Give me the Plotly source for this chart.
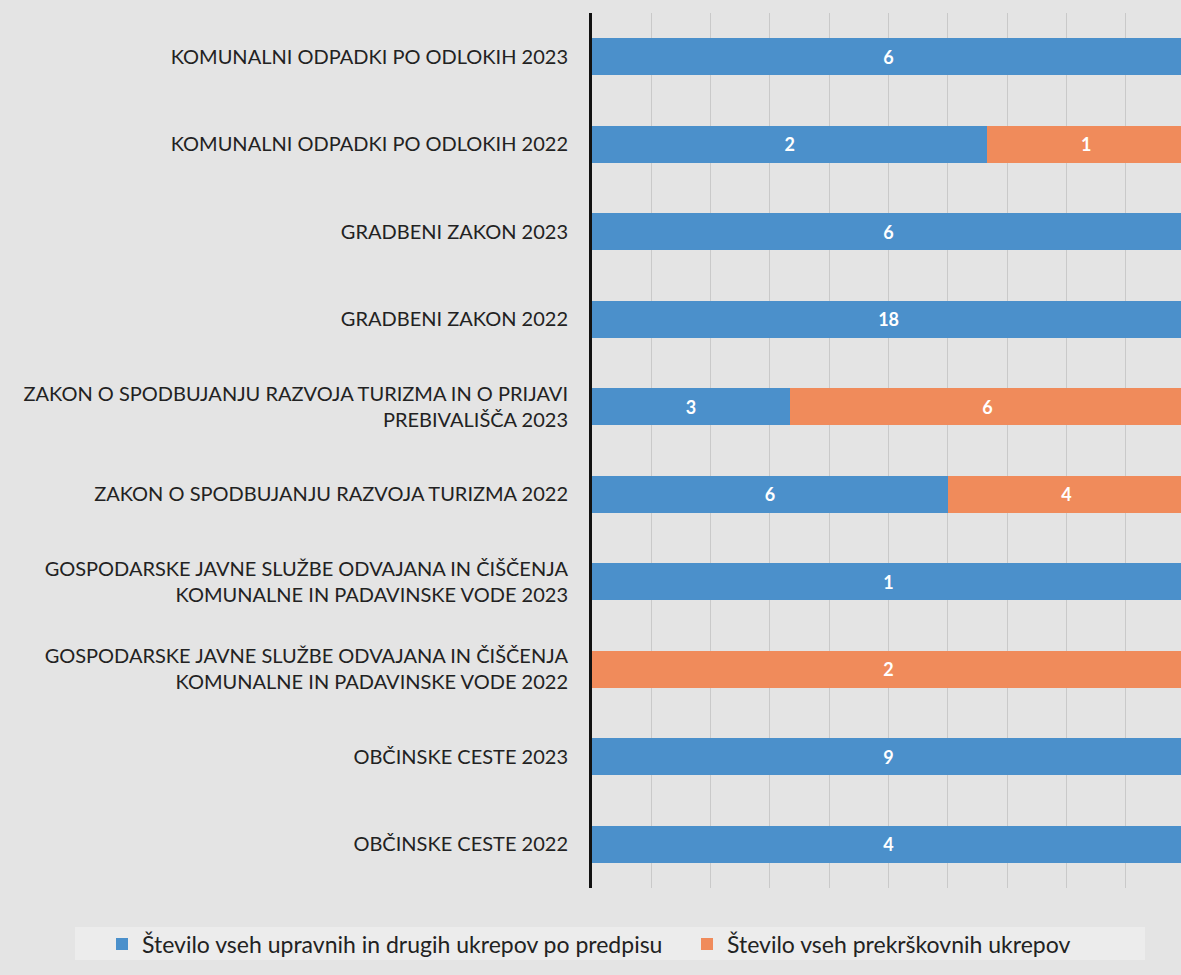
import plotly.graph_objects as go

# categories listed bottom-to-top (plotly draws the first category at the bottom)
categories = [
    "OBČINSKE CESTE 2022",
    "OBČINSKE CESTE 2023",
    "GOSPODARSKE JAVNE SLUŽBE ODVAJANA IN ČIŠČENJA<br>KOMUNALNE IN PADAVINSKE VODE 2022",
    "GOSPODARSKE JAVNE SLUŽBE ODVAJANA IN ČIŠČENJA<br>KOMUNALNE IN PADAVINSKE VODE 2023",
    "ZAKON O SPODBUJANJU RAZVOJA TURIZMA 2022",
    "ZAKON O SPODBUJANJU RAZVOJA TURIZMA IN O PRIJAVI<br>PREBIVALIŠČA 2023",
    "GRADBENI ZAKON 2022",
    "GRADBENI ZAKON 2023",
    "KOMUNALNI ODPADKI PO ODLOKIH 2022",
    "KOMUNALNI ODPADKI PO ODLOKIH 2023",
]
upravni = [4, 9, 0, 1, 6, 3, 18, 6, 2, 6]
prekrskovni = [0, 0, 2, 0, 4, 6, 0, 0, 1, 0]

series_names = [
    "Število vseh upravnih in drugih ukrepov po predpisu",
    "Število vseh prekrškovnih ukrepov",
]

BLUE = "#4b90cb"
ORANGE = "#f08b5b"
BG = "#e4e4e4"
FONT = "Lato, 'Open Sans', sans-serif"

W, H = 1181, 975
L, T, B = 592, 13, 87
plot_w = W - L
plot_h = H - T - B


def px_x(x):
    # pixel column -> paper x
    return (x - L) / plot_w


def px_y(y):
    # pixel row -> paper y
    return (H - B - y) / plot_h


fig = go.Figure()
for name, vals, color in [(series_names[0], upravni, BLUE),
                          (series_names[1], prekrskovni, ORANGE)]:
    fig.add_trace(go.Bar(
        y=categories,
        x=vals,
        orientation="h",
        name=name,
        marker=dict(color=color, line=dict(width=0)),
        text=[str(v) if v else "" for v in vals],
        textposition="inside",
        insidetextanchor="middle",
        textfont=dict(color="white", size=18, family=FONT, weight="bold"),
        width=0.42,
    ))

# lighter band behind the legend
fig.add_shape(
    type="rect", xref="paper", yref="paper",
    x0=px_x(75), x1=px_x(1145), y0=px_y(960), y1=px_y(927),
    fillcolor="#ececec", line=dict(width=0), layer="below",
)

fig.update_layout(
    barmode="stack",
    barnorm="fraction",
    width=W,
    height=H,
    paper_bgcolor=BG,
    plot_bgcolor=BG,
    font=dict(family=FONT, size=20, color="#222222"),
    margin=dict(l=L, r=0, t=T, b=B, autoexpand=False),
    showlegend=True,
    legend=dict(
        orientation="h",
        xref="paper", yref="paper",
        x=px_x(102), xanchor="left",
        y=px_y(944), yanchor="middle",
        bgcolor="rgba(0,0,0,0)",
        font=dict(size=23, family=FONT, color="#222222"),
        traceorder="normal",
        entrywidth=540,
    ),
    xaxis=dict(
        range=[0, 0.993],
        dtick=0.1,
        showticklabels=False,
        showgrid=True,
        gridcolor="#c9c9c9",
        gridwidth=1,
        zeroline=False,
        showline=False,
        fixedrange=True,
    ),
    yaxis=dict(
        showline=True,
        linecolor="#111111",
        linewidth=3,
        ticks="",
        ticklabelstandoff=17,
        showgrid=False,
        zeroline=False,
    ),
)

fig.write_html(
    "out.html",
    config={"displayModeBar": False},
    post_script="document.body.style.margin='0';document.body.style.background='%s';" % BG,
)
